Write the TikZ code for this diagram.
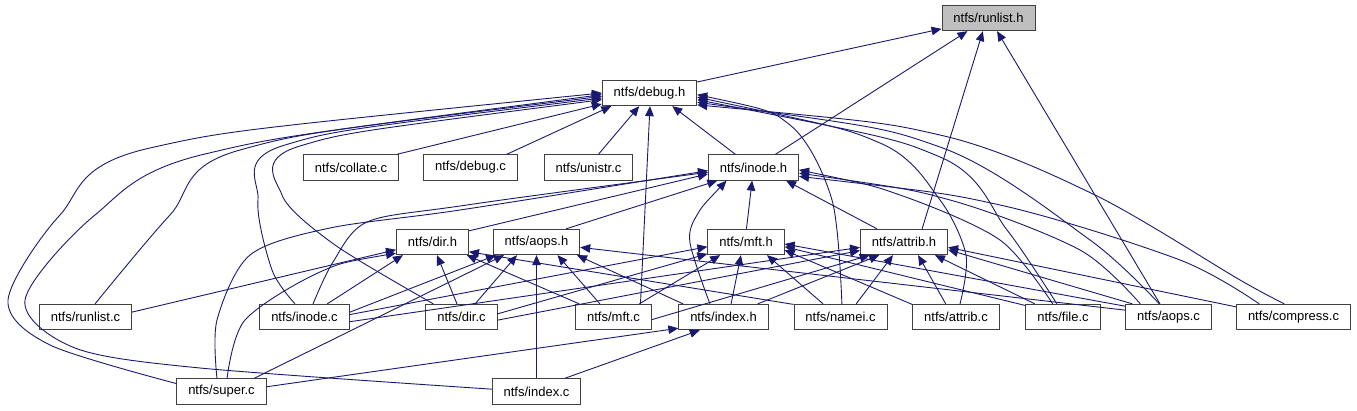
\documentclass[tikz,border=0pt]{standalone}
\usepackage{fontspec}
\setmainfont{Liberation Sans}
\usepackage{tikz}
\usetikzlibrary{arrows.meta}
\definecolor{edgeblue}{HTML}{191970}
\definecolor{rootgray}{HTML}{BFBFBF}

\begin{document}
\begin{tikzpicture}[x=1pt,y=-1pt]
\tikzstyle{every node}=[draw=black!75,line width=0.8pt,fill=white,minimum height=25.5pt,inner xsep=11.5pt,inner ysep=0pt,font=\fontsize{13}{15}\selectfont]
\tikzstyle{dep}=[edgeblue,line width=0.9pt,{Triangle[length=10pt,width=8.5pt]}-]
\useasboundingbox (0,0) rectangle (1357,411);

% headers
\node (runlisth) at (988.5,18) [fill=rootgray] {ntfs/runlist.h};
\node (debugh) at (649.5,93) {ntfs/debug.h};
\node (inodeh) at (753.5,167.5) {ntfs/inode.h};
\node (dirh) at (432.5,242) {ntfs/dir.h};
\node (aopsh) at (536.5,242) {ntfs/aops.h};
\node (mfth) at (746,242) {ntfs/mft.h};
\node (attribh) at (904,242) {ntfs/attrib.h};
\node (indexh) at (723.5,317) {ntfs/index.h};
% sources
\node (collatec) at (351,167.5) {ntfs/collate.c};
\node (debugc) at (470.5,167.5) {ntfs/debug.c};
\node (unistrc) at (588.5,167.5) {ntfs/unistr.c};
\node (runlistc) at (85.5,317) {ntfs/runlist.c};
\node (inodec) at (304.5,317) {ntfs/inode.c};
\node (dirc) at (461.5,317) {ntfs/dir.c};
\node (mftc) at (613.5,317) {ntfs/mft.c};
\node (nameic) at (840.5,317) {ntfs/namei.c};
\node (attribc) at (956,317) {ntfs/attrib.c};
\node (filec) at (1063,317) {ntfs/file.c};
\node (aopsc) at (1168.5,317) {ntfs/aops.c};
\node (compressc) at (1293.5,317) {ntfs/compress.c};
\node (superc) at (221.5,391.5) {ntfs/super.c};
\node (indexc) at (536.5,391.5) {ntfs/index.c};

% runlist.h
\draw[dep] (runlisth.193) -- (debugh.13);
\draw[dep] (runlisth.212) -- (inodeh.31);
\draw[dep] (runlisth.247) -- (attribh.36);
\draw[dep] (runlisth.303) -- (aopsc.123);

% debug.h
\draw[dep] (debugh.193) -- (collatec.16);
\draw[dep] (debugh.199) -- (debugc.20);
\draw[dep] (debugh.232) -- (unistrc.53);
\draw[dep] (debugh.272) -- (mftc.26);
\draw[dep] (debugh.330) -- (inodeh.144);
\draw[dep] plot[smooth] coordinates {(debugh.180) (150,148) (60,215) (8,300) (50,345) (superc.170)};
\draw[dep] plot[smooth] coordinates {(debugh.182) (205,154) (95,215) (25,300) (75,348) (200,368) (indexc.177)};
\draw[dep] plot[smooth] coordinates {(debugh.184) (240,150) (170,215) (runlistc.54)};
\draw[dep] plot[smooth] coordinates {(debugh.186) (285,145) (258,200) (272,270) (inodec.126)};
\draw[dep] plot[smooth] coordinates {(debugh.188) (300,146) (282,195) (335,245) (dirc.155)};
\draw[dep] plot[smooth] coordinates {(debugh.358) (790,125) (832,200) (nameic.84)};
\draw[dep] plot[smooth] coordinates {(debugh.355) (880,143) (940,200) (966,255) (attribc.73)};
\draw[dep] plot[smooth] coordinates {(debugh.352) (940,157) (1007,230) (filec.115)};
\draw[dep] plot[smooth] coordinates {(debugh.349) (940,147) (1090,240) (aopsc.125)};
\draw[dep] plot[smooth] coordinates {(debugh.346) (940,135) (1095,195) (1240,280) (compressc.125)};

% inode.h
\draw[dep] (inodeh.188) -- (dirh.17);
\draw[dep] plot[smooth] coordinates {(inodeh.186) (460,206) (367,222) (333,262) (inodec.57)};
\draw[dep] plot[smooth] coordinates {(inodeh.184) (460,210) (330,228) (250,255) (217,320) (superc.109)};
\draw[dep] (inodeh.200) -- (aopsh.24);
\draw[dep] plot[smooth] coordinates {(inodeh.206) (697,215) (690,243) (indexh.136)};
\draw[dep] (inodeh.264) -- (mfth.88);
\draw[dep] (inodeh.338) -- (attribh.154);
\draw[dep] plot[smooth] coordinates {(inodeh.357) (900,195) (1000,240) (filec.128)};
\draw[dep] plot[smooth] coordinates {(inodeh.353) (950,200) (1080,250) (aopsc.155)};
\draw[dep] plot[smooth] coordinates {(inodeh.349) (1000,205) (1180,260) (compressc.159)};

% dir.h
\draw[dep] (dirh.192) -- (runlistc.6);
\draw[dep] plot[smooth] coordinates {(dirh.197) (320,272) (245,320) (superc.67)};
\draw[dep] (dirh.204) -- (inodec.30);
\draw[dep] (dirh.289) -- (dirc.109);
\draw[dep] (dirh.339) -- (mftc.159);
\draw[dep] (dirh.345) -- (nameic.165);

% aops.h
\draw[dep] (aopsh.198) -- (inodec.6);
\draw[dep] (aopsh.202) -- (superc.22);
\draw[dep] (aopsh.214) -- (dirc.44);
\draw[dep] (aopsh.270) -- (indexc.90);
\draw[dep] (aopsh.328) -- (mftc.136);
\draw[dep] (aopsh.342) -- (indexh.162);
\draw[dep] (aopsh.353) -- (aopsc.171);

% mft.h
\draw[dep] (mfth.187) -- (inodec.3);
\draw[dep] (mfth.197) -- (dirc.5);
\draw[dep] (mfth.207) -- (mftc.27);
\draw[dep] (mfth.249) -- (indexh.60);
\draw[dep] (mfth.328) -- (nameic.143);
\draw[dep] (mfth.348) -- (attribc.164);
\draw[dep] (mfth.353) -- (filec.163);
\draw[dep] (mfth.357) -- (aopsc.166);

% attrib.h
\draw[dep] (attribh.187) -- (inodec.354);
\draw[dep] (attribh.191) -- (dirc.355);
\draw[dep] (attribh.201) -- (mftc.356);
\draw[dep] (attribh.208) -- (indexh.21);
\draw[dep] (attribh.230) -- (nameic.40);
\draw[dep] (attribh.317) -- (attribc.128);
\draw[dep] (attribh.337) -- (filec.155);
\draw[dep] (attribh.350) -- (aopsc.160);
\draw[dep] (attribh.353) -- (compressc.170);

% index.h
\draw[dep] (indexh.209) -- (indexc.25);
\draw[dep] (indexh.194) -- (superc.6);
\end{tikzpicture}
\end{document}
